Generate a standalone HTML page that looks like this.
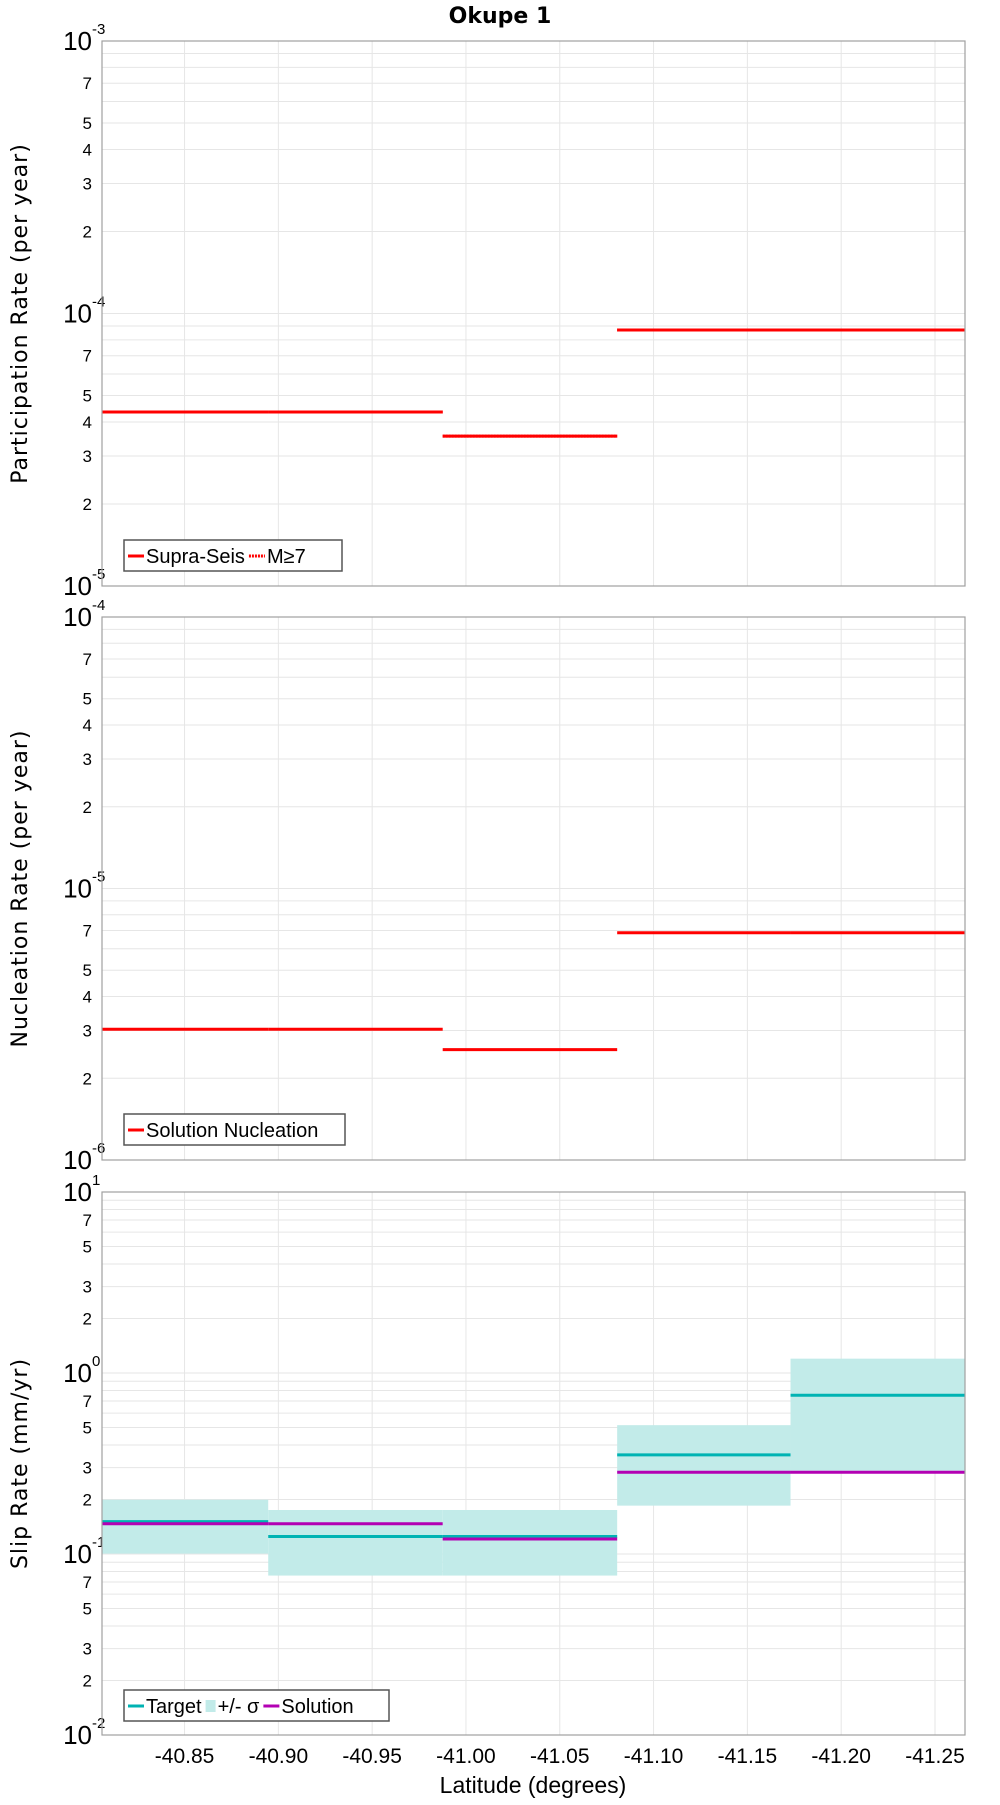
<!DOCTYPE html>
<html><head><meta charset="utf-8"><style>
body{margin:0;background:#fff;}
svg text{font-family:"Liberation Sans",sans-serif;}
</style></head><body>
<svg id="chart" width="1000" height="1800" viewBox="0 0 1000 1800" xmlns="http://www.w3.org/2000/svg">
<text x="500" y="23" text-anchor="middle" font-size="22" font-weight="bold" style="font-family:'DejaVu Sans',sans-serif">Okupe 1</text>
<text x="533" y="1793" text-anchor="middle" font-size="23">Latitude (degrees)</text>
</svg>
<script>
// ---- data ----
const xTicks = [-40.85,-40.90,-40.95,-41.00,-41.05,-41.10,-41.15,-41.20,-41.25];
const xTickLabels = ["-40.85","-40.90","-40.95","-41.00","-41.05","-41.10","-41.15","-41.20","-41.25"];
const bounds = [-40.806,-40.8946,-40.9876,-41.0806,-41.173,-41.266];
const supraSeis = [4.35e-5,4.35e-5,3.55e-5,8.7e-5,8.7e-5];
const m7 = [4.35e-5,4.35e-5,3.55e-5,8.7e-5,8.7e-5];
const nucleation = [3.03e-6,3.03e-6,2.55e-6,6.87e-6,6.87e-6];
const target = [0.151,0.125,0.125,0.353,0.753];
const sigLow = [0.1005,0.076,0.076,0.185,0.288];
const sigHigh = [0.1995,0.175,0.175,0.515,1.20];
const solution = [0.147,0.147,0.121,0.283,0.283];

const svg = document.getElementById('chart');
const NS = 'http://www.w3.org/2000/svg';
const L = 102, R = 965;
const xMin = -40.806, xMax = -41.266;
function xs(v){ return L + (v - xMin)/(xMax - xMin)*(R - L); }
function mk(tag, attrs){ const e=document.createElementNS(NS,tag); for(const k in attrs) e.setAttribute(k,attrs[k]); svg.appendChild(e); return e; }

const panels = [
 {top:41,bot:586,lo:-5,hi:-3,minors:[2,3,4,5,7],title:"Participation Rate (per year)"},
 {top:617,bot:1160,lo:-6,hi:-4,minors:[2,3,4,5,7],title:"Nucleation Rate (per year)"},
 {top:1192,bot:1735,lo:-2,hi:1,minors:[2,3,5,7],title:"Slip Rate (mm/yr)"}
];
function ys(p,v){ return p.bot - (Math.log10(v)-p.lo)/(p.hi-p.lo)*(p.bot-p.top); }

panels.forEach((p,pi)=>{
  const g = mk('rect',{x:L,y:p.top,width:R-L,height:p.bot-p.top,fill:'#fff',stroke:'none'});
  
  
  for(let d=p.lo; d<p.hi; d++){
    for(let m=1;m<10;m++){
      const y=ys(p,m*Math.pow(10,d));
      const ln=mk('line',{x1:L,x2:R,y1:y,y2:y,stroke:'#e6e6e6','stroke-width':1});
      
      
    }
  }
  xTicks.forEach(t=>{
    const x=xs(t);
    const ln=mk('line',{x1:x,x2:x,y1:p.top,y2:p.bot,stroke:'#e6e6e6','stroke-width':1});
    
    
  });
  for(let d=p.lo; d<=p.hi; d++){
    const y=ys(p,Math.pow(10,d));
    const t=mk('text',{x:L-10,y:y+9,'text-anchor':'end','font-size':26});
    
    
    t.textContent='10';
    const sup=mk('text',{x:L-10,y:y-7,'text-anchor':'start','font-size':15});
    
    
    sup.textContent=String(d);
    if(d<p.hi){
      p.minors.forEach(m=>{
        const yy=ys(p,m*Math.pow(10,d));
        const mt=mk('text',{x:L-10,y:yy+6,'text-anchor':'end','font-size':17});
        
        
        mt.textContent=String(m);
      });
    }
  }
  const yt=mk('text',{x:0,y:0,'text-anchor':'middle','font-size':22,transform:`translate(27,${(p.top+p.bot)/2}) rotate(-90)`,style:"font-family:'DejaVu Sans',sans-serif;letter-spacing:1px"});
  
  
  yt.textContent=p.title;
});

function seg(p,arr,color,w,name,dash){
  arr.forEach((v,i)=>{
    const y=ys(p,v);
    const a={x1:xs(bounds[i]),x2:xs(bounds[i+1]),y1:y,y2:y,stroke:color,'stroke-width':w};
    if(dash) a['stroke-dasharray']=dash;
    const ln=mk('line',a);
    
    
  });
}
seg(panels[0],supraSeis,'#ff0000',3,'supra-seis-line');
seg(panels[0],m7,'#ff0000',3,'m7-line','2,1');
seg(panels[1],nucleation,'#ff0000',3,'nucleation-line');
sigLow.forEach((v,i)=>{
  const p=panels[2];
  const y1=ys(p,sigHigh[i]), y2=ys(p,v);
  const r=mk('rect',{x:xs(bounds[i]),y:y1,width:xs(bounds[i+1])-xs(bounds[i]),height:y2-y1,fill:'#c2ebe9'});
  
  
});
seg(panels[2],target,'#00b3b3',3,'target-line');
seg(panels[2],solution,'#b300b3',3,'solution-line');

panels.forEach((p,pi)=>{
  const f=mk('rect',{x:L,y:p.top,width:R-L,height:p.bot-p.top,fill:'none',stroke:'#a0a0a0','stroke-width':1.2});
  
  
});
xTicks.forEach((t,i)=>{
  const tx=mk('text',{x:xs(t),y:1763,'text-anchor':'middle','font-size':21});
  
  
  tx.textContent=xTickLabels[i];
});

function legend(x,y,w,items,name){
  const b=mk('rect',{x:x,y:y,width:w,height:31,fill:'#fff',stroke:'#555','stroke-width':1.5});
  
  
  let cx=x+4;
  items.forEach(it=>{
    if(it.rect){
      const r=mk('rect',{x:cx,y:y+10,width:10,height:12,fill:it.color});
      
      
      cx+=12;
    } else {
      const a={x1:cx,x2:cx+16,y1:y+16,y2:y+16,stroke:it.color,'stroke-width':3};
      if(it.dash) a['stroke-dasharray']=it.dash;
      const ln=mk('line',a);
      
      
      cx+=18;
    }
    const t=mk('text',{x:cx,y:y+23,'font-size':20});
    
    
    t.textContent=it.label;
    cx+=t.getComputedTextLength()+4;
  });
}
legend(124,540,218,[{color:'#ff0000',label:'Supra-Seis'},{color:'#ff0000',label:'M≥7',dash:'2,1'}],'legend-participation');
legend(124,1114,221,[{color:'#ff0000',label:'Solution Nucleation'}],'legend-nucleation');
legend(124,1690,265,[{color:'#00b3b3',label:'Target'},{color:'#c2ebe9',label:'+/- σ',rect:true},{color:'#b300b3',label:'Solution'}],'legend-slip');
</script>
</body></html>
